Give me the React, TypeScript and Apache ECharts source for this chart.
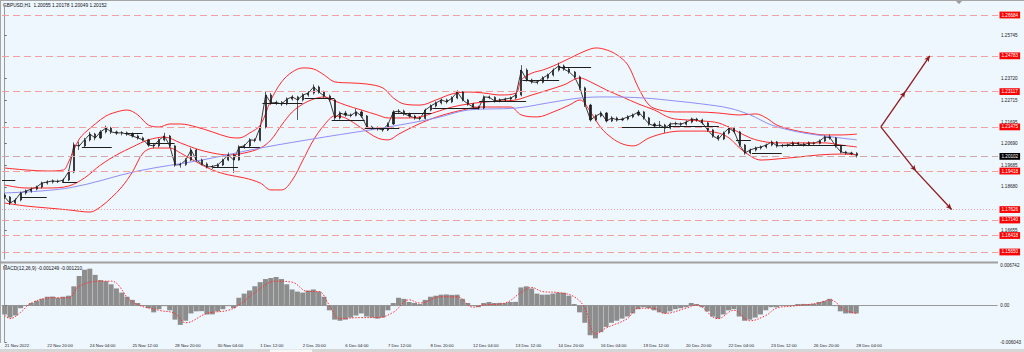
import React, { useEffect, useRef } from 'react';
import * as echarts from 'echarts';

const SLOTS = 187;
const header = 'GBPUSD,H1  1.20055 1.20178 1.20049 1.20152';
const macdHeader = 'MACD(12,26,9) -0.001249 -0.001210';

const dateLabels = ['21 Nov 2022', '22 Nov 20:00', '24 Nov 04:00', '25 Nov 12:00', '28 Nov 20:00', '30 Nov 04:00', '1 Dec 12:00', '2 Dec 20:00', '6 Dec 04:00', '7 Dec 12:00', '8 Dec 20:00', '12 Dec 04:00', '13 Dec 12:00', '14 Dec 20:00', '16 Dec 04:00', '19 Dec 12:00', '20 Dec 20:00', '22 Dec 04:00', '23 Dec 12:00', '26 Dec 20:00', '28 Dec 04:00'];

// [open, close, low, high] (4-hour groups)
const candles: number[][] = [
  [1.1830, 1.1821, 1.1812, 1.1838], [1.1821, 1.1793, 1.1784, 1.1826], [1.1793, 1.1807, 1.1788, 1.1815], [1.1807, 1.1840, 1.1801, 1.1846],
  [1.1840, 1.1849, 1.1832, 1.1856], [1.1849, 1.1858, 1.1841, 1.1865], [1.1858, 1.1868, 1.1852, 1.1874], [1.1868, 1.1886, 1.1861, 1.1893],
  [1.1886, 1.1891, 1.1879, 1.1899], [1.1891, 1.1896, 1.1884, 1.1903], [1.1896, 1.1893, 1.1886, 1.1902], [1.1893, 1.1900, 1.1887, 1.1908],
  [1.1900, 1.1938, 1.1895, 1.1945], [1.1938, 1.2063, 1.1932, 1.2075], [1.2063, 1.2059, 1.2040, 1.2078], [1.2059, 1.2087, 1.2050, 1.2096],
  [1.2087, 1.2114, 1.2080, 1.2124], [1.2114, 1.2096, 1.2085, 1.2120], [1.2096, 1.2124, 1.2090, 1.2133], [1.2124, 1.2142, 1.2117, 1.2153],
  [1.2142, 1.2124, 1.2115, 1.2148], [1.2124, 1.2119, 1.2110, 1.2130], [1.2119, 1.2120, 1.2108, 1.2128], [1.2120, 1.2114, 1.2106, 1.2126],
  [1.2114, 1.2105, 1.2098, 1.2122], [1.2105, 1.2096, 1.2088, 1.2112], [1.2096, 1.2087, 1.2080, 1.2102], [1.2087, 1.2063, 1.2055, 1.2092],
  [1.2063, 1.2059, 1.2048, 1.2070], [1.2059, 1.2087, 1.2052, 1.2094], [1.2087, 1.2105, 1.2080, 1.2120], [1.2105, 1.2059, 1.2050, 1.2110],
  [1.2059, 1.1970, 1.1962, 1.2064], [1.1970, 1.1972, 1.1958, 1.1981], [1.1972, 1.1993, 1.1966, 1.2002], [1.1993, 1.2040, 1.1988, 1.2050],
  [1.2040, 1.1993, 1.1985, 1.2045], [1.1993, 1.1975, 1.1968, 1.2000], [1.1975, 1.1961, 1.1954, 1.1982], [1.1961, 1.1963, 1.1952, 1.1970],
  [1.1963, 1.1970, 1.1956, 1.1978], [1.1970, 1.1993, 1.1965, 1.2000], [1.1993, 1.2017, 1.1988, 1.2028], [1.2017, 1.1993, 1.1933, 1.2022],
  [1.1993, 1.2054, 1.1990, 1.2062], [1.2054, 1.2059, 1.2046, 1.2068], [1.2059, 1.2087, 1.2052, 1.2095], [1.2087, 1.2085, 1.2076, 1.2094],
  [1.2085, 1.2147, 1.2080, 1.2156], [1.2147, 1.2296, 1.2140, 1.2312], [1.2296, 1.2259, 1.2250, 1.2305], [1.2259, 1.2261, 1.2250, 1.2270],
  [1.2261, 1.2254, 1.2245, 1.2268], [1.2254, 1.2277, 1.2248, 1.2285], [1.2277, 1.2287, 1.2270, 1.2295], [1.2287, 1.2273, 1.2180, 1.2292],
  [1.2273, 1.2296, 1.2266, 1.2304], [1.2296, 1.2305, 1.2288, 1.2314], [1.2305, 1.2333, 1.2298, 1.2345], [1.2333, 1.2310, 1.2302, 1.2340],
  [1.2310, 1.2291, 1.2283, 1.2316], [1.2291, 1.2273, 1.2265, 1.2298], [1.2273, 1.2189, 1.2180, 1.2278], [1.2189, 1.2212, 1.2182, 1.2220],
  [1.2212, 1.2203, 1.2195, 1.2222], [1.2203, 1.2201, 1.2192, 1.2210], [1.2201, 1.2217, 1.2196, 1.2232], [1.2217, 1.2198, 1.2190, 1.2224],
  [1.2198, 1.2147, 1.2140, 1.2203], [1.2147, 1.2142, 1.2135, 1.2153], [1.2142, 1.2140, 1.2130, 1.2150], [1.2140, 1.2133, 1.2125, 1.2146],
  [1.2133, 1.2161, 1.2128, 1.2168], [1.2161, 1.2217, 1.2156, 1.2225], [1.2217, 1.2221, 1.2208, 1.2230], [1.2221, 1.2208, 1.2200, 1.2228],
  [1.2208, 1.2198, 1.2190, 1.2214], [1.2198, 1.2189, 1.2181, 1.2204], [1.2189, 1.2187, 1.2178, 1.2196], [1.2187, 1.2226, 1.2182, 1.2233],
  [1.2226, 1.2245, 1.2220, 1.2252], [1.2245, 1.2259, 1.2238, 1.2266], [1.2259, 1.2273, 1.2252, 1.2280], [1.2273, 1.2264, 1.2256, 1.2279],
  [1.2264, 1.2282, 1.2258, 1.2290], [1.2282, 1.2310, 1.2276, 1.2318], [1.2310, 1.2273, 1.2266, 1.2314], [1.2273, 1.2254, 1.2246, 1.2278],
  [1.2254, 1.2240, 1.2232, 1.2259], [1.2240, 1.2236, 1.2228, 1.2246], [1.2236, 1.2287, 1.2230, 1.2294], [1.2287, 1.2285, 1.2277, 1.2293],
  [1.2285, 1.2268, 1.2260, 1.2290], [1.2268, 1.2273, 1.2262, 1.2280], [1.2273, 1.2277, 1.2267, 1.2284], [1.2277, 1.2282, 1.2270, 1.2289],
  [1.2282, 1.2296, 1.2276, 1.2304], [1.2296, 1.2412, 1.2290, 1.2435], [1.2412, 1.2366, 1.2358, 1.2420], [1.2366, 1.2357, 1.2349, 1.2372],
  [1.2357, 1.2355, 1.2346, 1.2364], [1.2355, 1.2375, 1.2350, 1.2383], [1.2375, 1.2389, 1.2368, 1.2396], [1.2389, 1.2412, 1.2382, 1.2420],
  [1.2412, 1.2431, 1.2405, 1.2446], [1.2431, 1.2417, 1.2409, 1.2438], [1.2417, 1.2403, 1.2395, 1.2423], [1.2403, 1.2380, 1.2372, 1.2408],
  [1.2380, 1.2329, 1.2320, 1.2386], [1.2329, 1.2249, 1.2240, 1.2335], [1.2249, 1.2180, 1.2172, 1.2255], [1.2180, 1.2198, 1.2174, 1.2206],
  [1.2198, 1.2212, 1.2192, 1.2220], [1.2212, 1.2175, 1.2168, 1.2217], [1.2175, 1.2189, 1.2170, 1.2197], [1.2189, 1.2180, 1.2172, 1.2195],
  [1.2180, 1.2184, 1.2174, 1.2192], [1.2184, 1.2194, 1.2178, 1.2202], [1.2194, 1.2203, 1.2188, 1.2210], [1.2203, 1.2217, 1.2197, 1.2226],
  [1.2217, 1.2189, 1.2181, 1.2222], [1.2189, 1.2161, 1.2153, 1.2194], [1.2161, 1.2152, 1.2144, 1.2168], [1.2152, 1.2156, 1.2145, 1.2175],
  [1.2156, 1.2142, 1.2120, 1.2162], [1.2142, 1.2161, 1.2136, 1.2168], [1.2161, 1.2163, 1.2154, 1.2172], [1.2163, 1.2160, 1.2151, 1.2168],
  [1.2160, 1.2170, 1.2154, 1.2178], [1.2170, 1.2184, 1.2164, 1.2191], [1.2184, 1.2180, 1.2172, 1.2190], [1.2180, 1.2166, 1.2158, 1.2186],
  [1.2166, 1.2133, 1.2125, 1.2171], [1.2133, 1.2105, 1.2097, 1.2138], [1.2105, 1.2091, 1.2083, 1.2110], [1.2091, 1.2119, 1.2086, 1.2126],
  [1.2119, 1.2142, 1.2113, 1.2150], [1.2142, 1.2124, 1.2116, 1.2148], [1.2124, 1.2063, 1.2055, 1.2129], [1.2063, 1.2026, 1.2018, 1.2068],
  [1.2026, 1.2040, 1.2020, 1.2047], [1.2040, 1.2049, 1.2033, 1.2056], [1.2049, 1.2054, 1.2042, 1.2061], [1.2054, 1.2063, 1.2047, 1.2070],
  [1.2063, 1.2077, 1.2057, 1.2084], [1.2077, 1.2059, 1.2051, 1.2082], [1.2059, 1.2061, 1.2052, 1.2068], [1.2061, 1.2063, 1.2054, 1.2070],
  [1.2063, 1.2073, 1.2057, 1.2080], [1.2073, 1.2068, 1.2060, 1.2078], [1.2068, 1.2063, 1.2056, 1.2074], [1.2063, 1.2073, 1.2058, 1.2080],
  [1.2073, 1.2071, 1.2064, 1.2078], [1.2071, 1.2082, 1.2066, 1.2089], [1.2082, 1.2101, 1.2077, 1.2108], [1.2101, 1.2096, 1.2088, 1.2112],
  [1.2096, 1.2059, 1.2051, 1.2100], [1.2059, 1.2031, 1.2024, 1.2064], [1.2031, 1.2026, 1.2019, 1.2036], [1.2026, 1.2024, 1.2016, 1.2032],
  [1.2024, 1.2015, 1.2005, 1.2030],
];

// [bar index, price]
const bbUpper: number[][] = [
  [0, 1.1956], [4, 1.1947], [8, 1.1942], [11, 1.1947], [12, 1.1984], [13, 1.2040], [14, 1.2091], [15, 1.2119], [17, 1.2161],
  [19, 1.2198], [21, 1.2217], [23, 1.2226], [25, 1.2203], [27, 1.2156], [29, 1.2147], [31, 1.2161], [33, 1.2161], [36, 1.2147],
  [39, 1.2124], [42, 1.2100], [44, 1.2096], [46, 1.2119], [48, 1.2156], [50, 1.2273], [52, 1.2357], [54, 1.2403], [56, 1.2422],
  [58, 1.2417], [60, 1.2389], [62, 1.2357], [65, 1.2352], [68, 1.2347], [71, 1.2329], [73, 1.2282], [75, 1.2254], [78, 1.2249],
  [81, 1.2273], [84, 1.2301], [87, 1.2310], [90, 1.2305], [93, 1.2296], [96, 1.2305], [97, 1.2366], [99, 1.2398], [101, 1.2412],
  [103, 1.2431], [105, 1.2454], [107, 1.2478], [109, 1.2501], [111, 1.2515], [113, 1.2506], [115, 1.2482], [117, 1.2436],
  [119, 1.2329], [121, 1.2249], [123, 1.2226], [126, 1.2217], [130, 1.2217], [134, 1.2212], [138, 1.2203], [141, 1.2208],
  [143, 1.2189], [145, 1.2156], [148, 1.2133], [151, 1.2119], [154, 1.2110], [157, 1.2110], [160, 1.2114],
];
const bbMiddle: number[][] = [
  [0, 1.1877], [4, 1.1863], [8, 1.1863], [12, 1.1872], [15, 1.1910], [18, 1.1970], [21, 1.2017], [24, 1.2054], [27, 1.2087],
  [30, 1.2100], [33, 1.2073], [36, 1.2045], [39, 1.2026], [42, 1.2017], [45, 1.2026], [48, 1.2049], [50, 1.2087], [52, 1.2156],
  [54, 1.2217], [56, 1.2254], [58, 1.2277], [60, 1.2287], [62, 1.2268], [64, 1.2249], [67, 1.2226], [70, 1.2203], [72, 1.2189],
  [75, 1.2189], [78, 1.2194], [81, 1.2217], [84, 1.2240], [87, 1.2254], [90, 1.2263], [93, 1.2268], [96, 1.2273], [99, 1.2296],
  [102, 1.2319], [105, 1.2343], [108, 1.2375], [110, 1.2357], [113, 1.2319], [116, 1.2287], [119, 1.2254], [122, 1.2226],
  [125, 1.2189], [128, 1.2180], [131, 1.2175], [134, 1.2166], [137, 1.2133], [140, 1.2096], [143, 1.2077], [146, 1.2073],
  [150, 1.2073], [154, 1.2073], [157, 1.2063], [160, 1.2054],
];
const bbLower: number[][] = [
  [0, 1.1793], [4, 1.1779], [8, 1.1770], [12, 1.1761], [16, 1.1751], [18, 1.1775], [20, 1.1817], [22, 1.1868], [24, 1.1938],
  [26, 1.2026], [28, 1.2049], [31, 1.2049], [33, 1.2026], [36, 1.1984], [39, 1.1947], [42, 1.1924], [45, 1.1910], [48, 1.1886],
  [50, 1.1854], [52, 1.1854], [54, 1.1900], [56, 1.1993], [58, 1.2087], [60, 1.2156], [62, 1.2198], [64, 1.2189], [67, 1.2142],
  [70, 1.2096], [72, 1.2087], [74, 1.2114], [77, 1.2152], [80, 1.2184], [83, 1.2208], [86, 1.2226], [89, 1.2240], [92, 1.2240],
  [95, 1.2240], [97, 1.2203], [100, 1.2194], [103, 1.2217], [106, 1.2249], [108, 1.2273], [110, 1.2217], [112, 1.2142],
  [114, 1.2096], [116, 1.2068], [118, 1.2059], [121, 1.2096], [124, 1.2119], [127, 1.2128], [131, 1.2128], [134, 1.2119],
  [136, 1.2096], [138, 1.2049], [140, 1.2012], [142, 1.1993], [145, 1.1998], [149, 1.2007], [153, 1.2017], [157, 1.2021], [160, 1.2017],
];
const movingAvg: number[][] = [
  [0, 1.1840], [12, 1.1863], [25, 1.1942], [37, 1.1993], [48, 1.2049], [60, 1.2100], [72, 1.2147], [81, 1.2189], [87, 1.2226],
  [96, 1.2235], [102, 1.2259], [108, 1.2282], [113, 1.2287], [120, 1.2282], [126, 1.2268], [131, 1.2254], [136, 1.2235],
  [140, 1.2203], [144, 1.2156], [149, 1.2124], [154, 1.2105], [160, 1.2087],
];

// [start index, end index, price]
const daySegments: number[][] = [
  [-0.5, 2.0, 1.1900], [2.9, 7.9, 1.1821], [10.8, 13.6, 1.1891], [14.5, 20.1, 1.2054], [22.6, 25.9, 1.2119], [26.7, 31.9, 1.2073],
  [39.1, 43.8, 1.1961], [43.8, 47.9, 1.2054], [48.4, 55.9, 1.2259], [56.3, 61.9, 1.2282], [61.4, 67.6, 1.2180], [67.6, 74.1, 1.2142],
  [72.8, 80.1, 1.2212], [80.3, 89.1, 1.2236], [89.1, 97.9, 1.2268], [97.2, 104.1, 1.2366], [104.1, 110.1, 1.2426], [115.9, 124.8, 1.2147],
  [124.8, 134.1, 1.2152], [137.3, 140.1, 1.2087], [140.3, 145.9, 1.2026], [145.9, 157.9, 1.2063],
];

const macdHist: number[] = [
  -0.00147, -0.00199, -0.00164, -0.00043, 0.00009, 0.00043, 0.00078, 0.00112, 0.00147, 0.00150, 0.00130, 0.00147, 0.00164,
  0.00320, 0.00492, 0.00596, 0.00613, 0.00510, 0.00423, 0.00406, 0.00354, 0.00285, 0.00216, 0.00147, 0.00095, 0.00043,
  0.00009, -0.00043, -0.00112, -0.00060, -0.00009, -0.00078, -0.00233, -0.00320, -0.00251, -0.00130, -0.00095, -0.00092,
  -0.00147, -0.00145, -0.00095, -0.00060, -0.00009, -0.00043, 0.00130, 0.00199, 0.00251, 0.00320, 0.00389, 0.00441, 0.00458,
  0.00475, 0.00441, 0.00354, 0.00268, 0.00233, 0.00216, 0.00251, 0.00268, 0.00233, 0.00147, -0.00078, -0.00233, -0.00251,
  -0.00233, -0.00199, -0.00164, -0.00130, -0.00181, -0.00199, -0.00216, -0.00199, -0.00078, 0.00043, 0.00130, 0.00112, 0.00060,
  0.00043, 0.00026, 0.00095, 0.00147, 0.00164, 0.00181, 0.00185, 0.00178, 0.00181, 0.00112, 0.00043, -0.00009, -0.00026,
  0.00043, 0.00060, 0.00043, 0.00045, 0.00043, 0.00060, 0.00062, 0.00302, 0.00320, 0.00285, 0.00199, 0.00181, 0.00183, 0.00199,
  0.00216, 0.00214, 0.00164, 0.00026, -0.00112, -0.00285, -0.00492, -0.00544, -0.00441, -0.00354, -0.00285, -0.00251, -0.00216,
  -0.00181, -0.00130, -0.00060, -0.00026, -0.00043, -0.00078, -0.00112, -0.00130, -0.00095, -0.00060, -0.00043, -0.00026,
  0.00043, 0.00026, -0.00026, -0.00095, -0.00181, -0.00216, -0.00147, -0.00078, -0.00060, -0.00181, -0.00251, -0.00233,
  -0.00199, -0.00147, -0.00078, -0.00026, -0.00028, -0.00009, 0.00009, 0.00010, 0.00026, 0.00028, 0.00026, 0.00030, 0.00060,
  0.00078, 0.00112, -0.00009, -0.00095, -0.00130, -0.00128, -0.00130,
];
const macdSignal: number[][] = [
  [0, -0.00160], [1, -0.00216], [3, -0.00112], [5, 0.00043], [9, 0.00130], [12, 0.00130], [14, 0.00320], [18, 0.00406],
  [20, 0.00406], [24, 0.00060], [29, -0.00078], [32, -0.00130], [34, -0.00285], [38, -0.00130], [42, -0.00078], [44, 0.00009],
  [47, 0.00216], [51, 0.00406], [54, 0.00389], [57, 0.00233], [59, 0.00233], [61, 0.00009], [63, -0.00216], [67, -0.00199],
  [70, -0.00199], [73, -0.00112], [76, 0.00095], [78, 0.00043], [82, 0.00147], [85, 0.00147], [88, -0.00026], [90, 0.00009],
  [94, 0.00043], [97, 0.00216], [99, 0.00302], [101, 0.00233], [104, 0.00216], [107, 0.00147], [109, -0.00043], [111, -0.00475],
  [113, -0.00372], [117, -0.00216], [119, -0.00043], [122, -0.00043], [124, -0.00130], [128, -0.00043], [130, 0.00009],
  [134, -0.00216], [137, -0.00078], [140, -0.00251], [143, -0.00164], [145, -0.00043], [148, -0.00009], [153, 0.00043],
  [155, 0.00095], [158, -0.00078], [160, -0.00130],
];

const redLevels = [1.26684, 1.24783, 1.23117, 1.21475, 1.19418, 1.17626, 1.1714, 1.16418, 1.1565];
const dottedLevel = 1.17626;
const bidLevel = 1.20102;
const priceTicks = [1.25745, 1.2372, 1.22715, 1.21695, 1.2069, 1.19685, 1.1868, 1.16655];
const macdTicks = [0.006742, 0, -0.006043];
const macdTickLabels = ['0.006742', '0.00', '-0.006043'];

// [bar index, price]: apex, middle arrowhead, end
const arrowUp: number[][] = [[164.5, 1.21475], [169.1, 1.23117], [173.7, 1.24783]];
const arrowDown: number[][] = [[164.5, 1.21475], [171.1, 1.19418], [177.8, 1.17626]];

const FONT = 'Liberation Sans, Arial, sans-serif';

export default function App() {
  const ref = useRef<HTMLDivElement>(null);
  useEffect(() => {
    if (!ref.current) return;
    const chart = echarts.init(ref.current, undefined, { renderer: 'svg' });
    const categories = Array.from({ length: SLOTS }, (_, i) => String(i));
    const closes = candles.map((c) => c[1]);
    const labelInterval = (i: number) => i % 8 === 0 && i / 8 < dateLabels.length;
    const arrowSegs = (pts: number[][]) => [
      [{ coord: pts[0] }, { coord: pts[1] }],
      [{ coord: pts[1] }, { coord: pts[2] }],
    ];
    const bandLine = (name: string, data: number[][], color: string) => ({
      name, type: 'line', xAxisIndex: 1, yAxisIndex: 0, data, smooth: 0.35, showSymbol: false, silent: true,
      lineStyle: { color, width: 1 },
    });
    const option: any = {
      animation: false,
      backgroundColor: '#eef6fe',
      textStyle: { fontFamily: FONT },
      grid: [
        { left: 2, right: 26, top: 5, height: 254 },
        { left: 2, right: 26, top: 265, height: 77 },
      ],
      xAxis: [
        { type: 'category', gridIndex: 0, data: categories, axisLine: { show: false }, axisTick: { show: false }, axisLabel: { show: false }, splitLine: { show: false } },
        { type: 'value', gridIndex: 0, min: -0.5, max: SLOTS - 0.5, show: false },
        {
          type: 'category', gridIndex: 1, data: categories,
          axisLine: { lineStyle: { color: '#9a9a9a', width: 1 } },
          axisTick: { interval: labelInterval, length: 2, lineStyle: { color: '#666' } },
          axisLabel: { interval: labelInterval, formatter: (_v: string, i: number) => dateLabels[i / 8] || '', fontSize: 4.3, color: '#222', margin: 1.5, align: 'left' },
          splitLine: { show: false },
        },
        { type: 'value', gridIndex: 1, min: -0.5, max: SLOTS - 0.5, show: false },
      ],
      yAxis: [
        {
          type: 'value', gridIndex: 0, position: 'right', min: 1.15324, max: 1.2715,
          splitLine: { show: false },
          axisLine: { show: true, lineStyle: { color: '#9a9a9a' } },
          axisTick: { show: true, length: 2, customValues: priceTicks, lineStyle: { color: '#666' } },
          axisLabel: { customValues: priceTicks, formatter: (v: number) => v.toFixed(5), fontSize: 4.6, color: '#222', margin: 3 },
        },
        {
          type: 'value', gridIndex: 1, position: 'right', min: -0.006043, max: 0.006742,
          splitLine: { show: false },
          axisLine: { show: true, lineStyle: { color: '#9a9a9a' } },
          axisTick: { show: true, length: 2, customValues: macdTicks, lineStyle: { color: '#666' } },
          axisLabel: {
            customValues: macdTicks, fontSize: 4.6, color: '#222', margin: 3,
            formatter: (v: number) => macdTickLabels[macdTicks.findIndex((t) => Math.abs(t - v) < 1e-7)] ?? '',
          },
        },
      ],
      graphic: [
        { type: 'line', silent: true, shape: { x1: 0, y1: 0.5, x2: 1024, y2: 0.5 }, style: { stroke: '#a6a6a6', lineWidth: 1 } },
        { type: 'line', silent: true, shape: { x1: 0.5, y1: 0, x2: 0.5, y2: 343 }, style: { stroke: '#a6a6a6', lineWidth: 1 } },
        { type: 'line', silent: true, shape: { x1: 0, y1: 262.5, x2: 998, y2: 262.5 }, style: { stroke: '#a0a0a0', lineWidth: 2 } },
        { type: 'polygon', silent: true, shape: { points: [[956, 1], [962, 1], [959, 4]] }, style: { fill: '#9a9a9a' } },
        { type: 'rect', silent: true, shape: { x: 0, y: 349, width: 1024, height: 3 }, style: { fill: '#d6d6d6' } },
        { type: 'rect', silent: true, shape: { x: 270, y: 349.5, width: 42, height: 2.5 }, style: { fill: '#f7f7f7' } },
        { type: 'text', silent: true, left: 3, top: 2.5, style: { text: header, fontSize: 4.8, fill: '#111', fontFamily: FONT } },
        { type: 'text', silent: true, left: 3, top: 265.5, style: { text: macdHeader, fontSize: 4.8, fill: '#111', fontFamily: FONT } },
      ],
      series: [
        {
          name: 'Close', type: 'line', xAxisIndex: 0, yAxisIndex: 0, data: closes, showSymbol: false, silent: true,
          lineStyle: { color: '#3a3a3a', width: 1 }, z: 3,
        },
        {
          name: 'GBPUSD', type: 'candlestick', xAxisIndex: 0, yAxisIndex: 0, data: candles, barWidth: 1.6, silent: true, z: 3,
          itemStyle: { color: '#222', color0: '#222', borderColor: '#1a1a1a', borderColor0: '#1a1a1a', borderWidth: 0.7 },
          markLine: {
            silent: true, symbol: ['none', 'none'], animation: false, precision: 6,
            label: {
              show: true, position: 'end', distance: 1.5, formatter: (p: any) => Number(p.value).toFixed(5),
              fontSize: 4.6, color: '#ffffff', backgroundColor: '#ff0000', padding: [1.2, 2, 0.6, 2], fontFamily: FONT,
            },
            data: [
              ...redLevels.map((v) => ({
                yAxis: v,
                lineStyle: { color: '#f3a0a0', width: 1, type: v === dottedLevel ? [1, 2] : [7, 4] },
              })),
              {
                yAxis: bidLevel,
                lineStyle: { color: '#cfa9a9', width: 1.2, type: [7, 4] },
                label: { backgroundColor: '#000000', color: '#ffffff' },
              },
            ],
          },
        },
        bandLine('BB upper', bbUpper, '#ff2a2a'),
        bandLine('BB middle', bbMiddle, '#ff2a2a'),
        bandLine('BB lower', bbLower, '#ff2a2a'),
        {
          ...bandLine('MA', movingAvg, '#8f8ff5'),
          markLine: {
            silent: true, symbol: ['none', 'none'], animation: false, precision: 6, label: { show: false },
            lineStyle: { color: '#1e1e1e', width: 1, type: 'solid' },
            data: daySegments.map(([s, e, p]) => [{ coord: [s, p] }, { coord: [e, p] }]),
          },
        },
        {
          name: 'Arrows', type: 'line', xAxisIndex: 1, yAxisIndex: 0, data: [], silent: true, showSymbol: false,
          markLine: {
            silent: true, symbol: ['none', 'arrow'], symbolSize: [4, 6], animation: false, precision: 6, label: { show: false },
            lineStyle: { color: '#8e1b1b', width: 1.3, type: 'solid' },
            data: [...arrowSegs(arrowUp), ...arrowSegs(arrowDown)],
          },
        },
        {
          name: 'MACD', type: 'bar', xAxisIndex: 2, yAxisIndex: 1, data: macdHist, barCategoryGap: '6%', silent: true,
          itemStyle: { color: '#8d8d8d' },
        },
        {
          name: 'Signal', type: 'line', xAxisIndex: 3, yAxisIndex: 1, data: macdSignal, smooth: 0.4, showSymbol: false, silent: true,
          lineStyle: { color: '#ff3030', width: 1, type: [1.5, 1.5] },
        },
      ],
    };
    chart.setOption(option);
    return () => chart.dispose();
  }, []);
  return <div ref={ref} style={{ position: 'absolute', left: 0, top: 0, width: 1024, height: 352 }} />;
}
